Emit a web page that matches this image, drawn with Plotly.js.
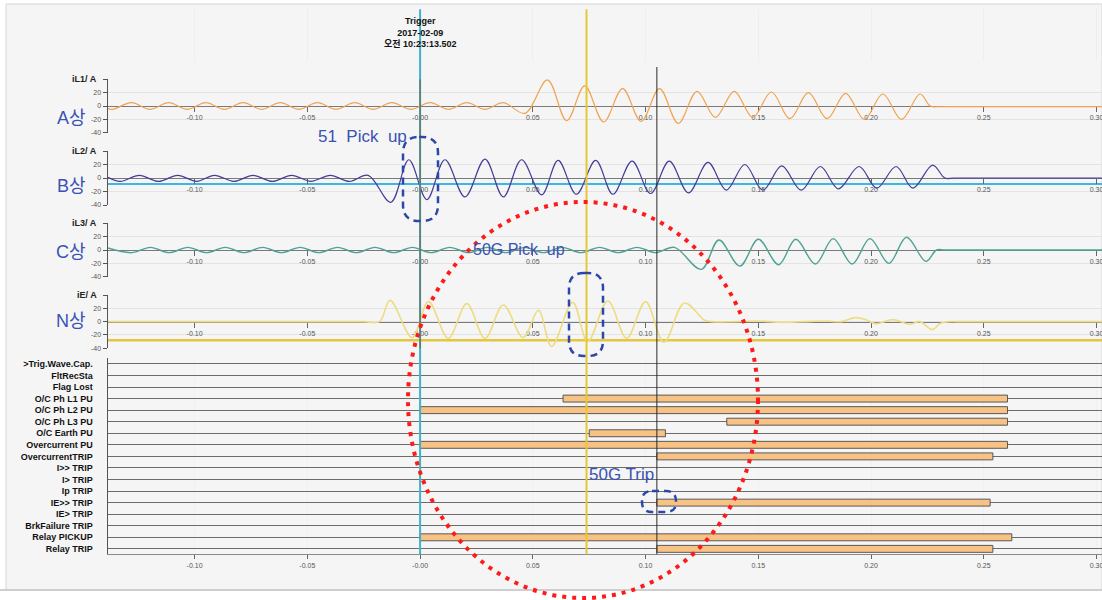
<!DOCTYPE html>
<html>
<head>
<meta charset="utf-8">
<script src="https://cdn.plot.ly/plotly-3.0.1.min.js"></script>
<style>html,body{margin:0;padding:0;background:#fff;}#chart{width:1102px;height:600px;}</style>
</head>
<body>
<div id="chart"></div>
<script>
// ---------- DATA ----------
const xRange = [-0.1384, 0.3024];
const tickVals = [-0.10, -0.05, 0, 0.05, 0.10, 0.15, 0.20, 0.25, 0.30];
const tickText = ['-0.10', '-0.05', '-0.00', '0.05', '0.10', '0.15', '0.20', '0.25', '0.30'];
const yTickVals = [-40, -20, 0, 20, 40];
const yTickText = ['-40', '-20', '0', '20', ''];

const channelNames = ['iL1/ A', 'iL2/ A', 'iL3/ A', 'iE/ A'];
const phaseNames = ['A상', 'B상', 'C상', 'N상'];

// iL1 (A phase) - extremes
const iL1_t = [-0.1384, -0.1363, -0.128, -0.1198, -0.1115, -0.1033, -0.095, -0.0868, -0.0785, -0.0703, -0.062, -0.0538, -0.0455, -0.0373, -0.029, -0.0208, -0.0125, -0.0041, 0.0044, 0.0126, 0.0207, 0.0288, 0.0369, 0.0465, 0.0565, 0.065, 0.073, 0.0814, 0.0898, 0.098, 0.1062, 0.1145, 0.1228, 0.131, 0.1393, 0.1475, 0.1558, 0.164, 0.1722, 0.1805, 0.1887, 0.197, 0.2052, 0.2135, 0.2217, 0.2262, 0.23, 0.236, 0.3024];
const iL1_v = [-4, -5, 5, -5, 5, -5, 5, -5, 5, -5, 5, -5, 5, -5, 5, -5, 5, -5, 5, -5, 5, -5, 5, -11, 39, -22, 30, -24, 26, -23, 26, -26, 22, -17, 22, -17, 21, -19, 20, -19, 19, -20, 18, -20, 18, 0, -1, -1, -1];

// iL2 (B phase)
const iL2_t = [-0.1384, -0.133, -0.1245, -0.116, -0.1075, -0.099, -0.0912, -0.0826, -0.0741, -0.0655, -0.057, -0.0484, -0.0398, -0.0314, -0.023, -0.013, -0.005, 0.003, 0.011, 0.0199, 0.0288, 0.0369, 0.045, 0.0539, 0.0612, 0.0693, 0.0779, 0.0855, 0.094, 0.1022, 0.1105, 0.119, 0.1277, 0.1358, 0.144, 0.152, 0.1604, 0.169, 0.1775, 0.1855, 0.1947, 0.2025, 0.2111, 0.2185, 0.2273, 0.2327, 0.237, 0.3024];
const iL2_v = [1, -5, 4, -5, 4, -5, 4, -5, 4, -5, 4, -5, 4, -5, 4, -36, 27, -32, 27, -28, 28, -28, 27, -25, 26, -24, 26, -24, 25, -23, 25, -22, 23, -18, 20, -18, 18, -18, 17, -16, 17, -15, 17, -15, 19, 0, 0, 0];

// iL3 (C phase)
const iL3_t = [-0.1384, -0.1279, -0.1196, -0.1113, -0.103, -0.0947, -0.0864, -0.0781, -0.0698, -0.0615, -0.0532, -0.0449, -0.0366, -0.0283, -0.02, -0.0117, -0.0034, 0.0049, 0.0132, 0.0215, 0.0298, 0.0381, 0.0464, 0.0547, 0.063, 0.0713, 0.0796, 0.0879, 0.0962, 0.1045, 0.1128, 0.1247, 0.1325, 0.1418, 0.15, 0.159, 0.1666, 0.1753, 0.1832, 0.1916, 0.1995, 0.2079, 0.2157, 0.2243, 0.229, 0.233, 0.3024];
const iL3_v = [3, -4, 4, -4, 4, -4, 4, -4, 4, -4, 4, -4, 4, -4, 4, -4, 4, -4, 4, -4, 4, -4, 4, -4, 4, -4, 4, -4, 4, -4, 4, -29, 15, -24, 16, -22, 16, -21, 17, -21, 17, -20, 19, -17, 0, 0, 0];

// iE (Neutral)
const iE_t = [-0.1384, -0.025, -0.018, -0.0133, -0.0035, 0.0037, 0.0125, 0.0207, 0.0288, 0.0369, 0.0457, 0.0525, 0.0583, 0.0677, 0.0743, 0.0833, 0.0916, 0.1, 0.1081, 0.1172, 0.1262, 0.1295, 0.14, 0.15, 0.16, 0.17, 0.18, 0.187, 0.193, 0.1977, 0.2021, 0.2097, 0.217, 0.2215, 0.2273, 0.2305, 0.2345, 0.238, 0.3024];
const iE_v = [0, 0, 0, 32, -24, 30, -25, 27, -25, 25, -24, 17, -37, 29, -30, 31, -25, 30, -31, 28, 2, 0, 0, 1, -1, 0, 1, 0, 6, 3, -3, 3, -4, 0, -12, -3, 0, 0, 0];

// reference levels
const iL2Threshold = -9;
const iEThreshold = -28;
const triggerTime = 0;
const pickup50GTime = 0.0738;
const trip50GTime = 0.105;

// digital channels
const digitalLabels = ['>Trig.Wave.Cap.', 'FltRecSta', 'Flag Lost', 'O/C Ph L1 PU', 'O/C Ph L2 PU', 'O/C Ph L3 PU', 'O/C Earth PU', 'Overcurrent PU', 'OvercurrentTRIP', 'I>> TRIP', 'I> TRIP', 'Ip TRIP', 'IE>> TRIP', 'IE> TRIP', 'BrkFailure TRIP', 'Relay PICKUP', 'Relay TRIP'];
const barRows  = ['O/C Ph L1 PU', 'O/C Ph L2 PU', 'O/C Ph L3 PU', 'O/C Earth PU', 'Overcurrent PU', 'OvercurrentTRIP', 'IE>> TRIP', 'Relay PICKUP', 'Relay TRIP'];
const barStart = [0.0634, 0.0, 0.136, 0.075, 0.0, 0.105, 0.105, 0.0, 0.105];
const barEnd   = [0.2605, 0.2605, 0.2605, 0.1088, 0.2605, 0.254, 0.2528, 0.2624, 0.254];

// ---------- LAYOUT HELPERS ----------
const W = 1102, H = 600;
const px = x => x / W;
const py = y => 1 - y / H;
const plotLeft = 108;
const headerBox = [9.3, 61.7];
const panelBoxes = [[79.3, 132.7], [151, 205], [223.3, 276.7], [295, 348.3]];
const digitalBox = [358, 554.3];
const FONT = 'Liberation Sans, Arial, Noto Sans CJK KR, sans-serif';
const KFONT = 'Liberation Sans, Noto Sans CJK KR, sans-serif';

const traces = [];
const colors = ['#f0a250', '#443c96', '#4fa294', '#eddc84'];
const widths = [1.2, 1.2, 1.4, 1.6];
const tArr = [iL1_t, iL2_t, iL3_t, iE_t];
const vArr = [iL1_v, iL2_v, iL3_v, iE_v];
for (let i = 0; i < 4; i++) {
  traces.push({
    type: 'scatter', mode: 'lines', x: tArr[i], y: vArr[i],
    xaxis: 'x' + (i + 2), yaxis: 'y' + (i + 2),
    line: {color: colors[i], width: widths[i], shape: 'spline', smoothing: 1},
    hoverinfo: 'skip'
  });
}
traces.push({
  type: 'bar', orientation: 'h', xaxis: 'x6', yaxis: 'y6',
  y: barRows, base: barStart, x: barEnd.map((e, i) => e - barStart[i]),
  width: 0.6,
  marker: {color: '#f8c284', line: {color: '#585858', width: 1}},
  hoverinfo: 'skip'
});
traces.push({type: 'scatter', mode: 'markers', x: [0], y: [0.5], xaxis: 'x', yaxis: 'y', marker: {opacity: 0}, hoverinfo: 'skip'});

const layout = {
  width: W, height: H,
  margin: {l: 0, r: 0, t: 0, b: 0},
  paper_bgcolor: '#ffffff', plot_bgcolor: '#ffffff',
  showlegend: false, hovermode: false,
  font: {family: FONT},
  xaxis: {domain: [px(plotLeft), 1], range: xRange, anchor: 'y', tickvals: tickVals, showticklabels: false, ticks: '',
          showgrid: true, gridcolor: '#eeeeee', zeroline: false, showline: false, fixedrange: true},
  yaxis: {domain: [py(headerBox[1]), py(headerBox[0])], range: [0, 1], anchor: 'x', showgrid: false, zeroline: false,
          showticklabels: false, ticks: '', showline: false, fixedrange: true},
  shapes: [], annotations: []
};

for (let i = 0; i < 4; i++) {
  const k = i + 2;
  const [top, bot] = panelBoxes[i];
  layout['xaxis' + k] = {
    domain: [px(plotLeft), 1], range: xRange, anchor: 'free', position: py((top + bot) / 2),
    showline: true, linecolor: '#7a7a7a', linewidth: 1, layer: 'below traces',
    ticks: 'outside', ticklen: 5, tickcolor: '#666', tickwidth: 1,
    tickvals: tickVals, ticktext: tickText, tickfont: {size: 7, color: '#555', family: FONT},
    ticklabeloverflow: 'allow',
    showgrid: false, zeroline: false, fixedrange: true
  };
  layout['yaxis' + k] = {
    domain: [py(bot), py(top)], anchor: 'x' + k, range: [-40, 40],
    tickvals: yTickVals, ticktext: yTickText, ticks: 'outside', ticklen: 4, tickcolor: '#555',
    tickfont: {size: 7, color: '#555', family: FONT},
    showline: true, linecolor: '#555', linewidth: 1.5,
    showgrid: true, gridcolor: '#e3e3e3', zeroline: false, fixedrange: true
  };
  layout.annotations.push({
    xref: 'paper', yref: 'paper', x: px(99), y: py(top), xanchor: 'right', yanchor: 'middle',
    text: '<b>' + channelNames[i] + '</b>', showarrow: false,
    font: {family: FONT, size: 9, color: '#222'}
  });
  layout.annotations.push({
    xref: 'paper', yref: 'paper', x: px(71), y: py([118, 186, 252, 321][i]), xanchor: 'center', yanchor: 'middle',
    text: phaseNames[i], showarrow: false,
    font: {family: KFONT, size: 18, color: '#3a52b4'}
  });
}

layout.xaxis6 = {
  domain: [px(plotLeft), 1], range: xRange, anchor: 'y6',
  showline: true, linecolor: '#8a8a8a', linewidth: 1,
  ticks: 'outside', ticklen: 4, tickcolor: '#666',
  tickvals: tickVals, ticktext: tickText, tickfont: {size: 7, color: '#555', family: FONT},
  ticklabeloverflow: 'allow',
  showgrid: true, gridcolor: '#f0f0f0', zeroline: false, fixedrange: true
};
layout.yaxis6 = {
  domain: [py(digitalBox[1]), py(digitalBox[0])], anchor: 'x6',
  type: 'category', categoryorder: 'array', categoryarray: digitalLabels,
  tickvals: digitalLabels, ticktext: digitalLabels,
  range: [16.47, -0.51],
  showgrid: true, gridcolor: '#6c6c6c', gridwidth: 1,
  showline: true, linecolor: '#555', linewidth: 1.5,
  ticks: '', ticklabelstandoff: 12,
  tickfont: {family: FONT, size: 9, color: '#111', weight: 'bold'},
  zeroline: false, fixedrange: true
};

// background frame
layout.shapes.push({type: 'rect', xref: 'paper', yref: 'paper', x0: px(6), x1: 1, y0: py(590), y1: py(4),
  fillcolor: '#f5f5f5', line: {color: '#d6d6d6', width: 1}, layer: 'below'});
layout.shapes.push({type: 'line', xref: 'paper', yref: 'paper', x0: 0, x1: 1, y0: py(590), y1: py(590),
  line: {color: '#cfcfcf', width: 2}, layer: 'below'});

// horizontal reference lines
layout.shapes.push({type: 'line', xref: 'paper', yref: 'y3', x0: px(plotLeft), x1: 1, y0: iL2Threshold, y1: iL2Threshold,
  line: {color: '#3cb6e2', width: 2}, layer: 'below'});
layout.shapes.push({type: 'line', xref: 'paper', yref: 'y5', x0: px(plotLeft), x1: 1, y0: iEThreshold, y1: iEThreshold,
  line: {color: '#e3c740', width: 2.5}, layer: 'below'});

// vertical cursors
layout.shapes.push({type: 'line', xref: 'x', yref: 'paper', x0: triggerTime, x1: triggerTime, y0: py(digitalBox[1]), y1: py(headerBox[0]),
  line: {color: '#3fb3c8', width: 2}});
layout.shapes.push({type: 'line', xref: 'x', yref: 'paper', x0: triggerTime, x1: triggerTime, y0: py(348.3), y1: py(79.3),
  line: {color: '#7b5b3b', width: 1}});
layout.shapes.push({type: 'line', xref: 'x', yref: 'paper', x0: pickup50GTime, x1: pickup50GTime, y0: py(digitalBox[1]), y1: py(headerBox[0]),
  line: {color: '#e5c836', width: 2}});
layout.shapes.push({type: 'line', xref: 'x', yref: 'paper', x0: trip50GTime, x1: trip50GTime, y0: py(digitalBox[1]), y1: py(67),
  line: {color: '#2a2a2a', width: 1}});

// header text
layout.annotations.push({xref: 'x', yref: 'paper', x: triggerTime, y: py(32), xanchor: 'center', yanchor: 'middle',
  text: '<b>Trigger</b><br><b>2017-02-09</b><br><b>오전 10:23:13.502</b>', showarrow: false,
  font: {family: KFONT, size: 9, color: '#111'}});

// hand-drawn style highlights
function capsule(x0, y0, x1, y1, r) {
  const P = (x, y) => px(x) + ',' + py(y);
  return 'M' + P(x0 + r, y0) + ' L' + P(x1 - r, y0) + ' Q' + P(x1, y0) + ' ' + P(x1, y0 + r) +
         ' L' + P(x1, y1 - r) + ' Q' + P(x1, y1) + ' ' + P(x1 - r, y1) +
         ' L' + P(x0 + r, y1) + ' Q' + P(x0, y1) + ' ' + P(x0, y1 - r) +
         ' L' + P(x0, y0 + r) + ' Q' + P(x0, y0) + ' ' + P(x0 + r, y0) + ' Z';
}
const blueDash = {color: '#2c47aa', width: 2.5, dash: '7px,5px'};
layout.shapes.push({type: 'path', xref: 'paper', yref: 'paper', path: capsule(403, 137, 438, 221, 16), line: blueDash});
layout.shapes.push({type: 'path', xref: 'paper', yref: 'paper', path: capsule(569, 273, 603, 356, 15), line: blueDash});
layout.shapes.push({type: 'path', xref: 'paper', yref: 'paper', path: capsule(642, 491, 676, 512, 10), line: blueDash});
layout.shapes.push({type: 'circle', xref: 'paper', yref: 'paper', x0: px(408), x1: px(758), y0: py(598), y1: py(202),
  line: {color: '#ff1a1a', width: 4, dash: '4px,6px'}});

const blueFont = {family: KFONT, size: 17, color: '#3a52b4'};
layout.annotations.push({xref: 'paper', yref: 'paper', x: px(362), y: py(136), xanchor: 'center', yanchor: 'middle',
  text: '51\u00a0 Pick\u00a0 up', showarrow: false, font: blueFont});
layout.annotations.push({xref: 'paper', yref: 'paper', x: px(519), y: py(249), xanchor: 'center', yanchor: 'middle',
  text: '50G Pick\u00a0 up', showarrow: false, font: {family: KFONT, size: 16, color: '#3a52b4'}});
layout.annotations.push({xref: 'paper', yref: 'paper', x: px(621), y: py(474), xanchor: 'center', yanchor: 'middle',
  text: '50G Trip', showarrow: false, font: blueFont});

Plotly.newPlot('chart', traces, layout, {staticPlot: true, displayModeBar: false});
</script>
</body>
</html>
